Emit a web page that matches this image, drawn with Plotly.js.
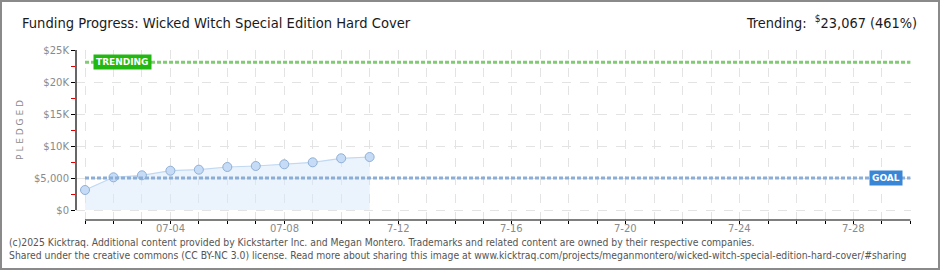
<!DOCTYPE html>
<html>
<head>
<meta charset="utf-8">
<script src="https://cdn.plot.ly/plotly-3.0.1.min.js"></script>
<style>
  html, body { margin: 0; padding: 0; background: #fff; }
  #frame { width: 936px; height: 266px; border: 2px solid #8a8a8a; }
  #chart { width: 936px; height: 266px; }
</style>
</head>
<body>
<div id="frame"><div id="chart"></div></div>
<script>
// ---- data ----
const dates = ['2025-07-01','2025-07-02','2025-07-03','2025-07-04','2025-07-05','2025-07-06',
               '2025-07-07','2025-07-08','2025-07-09','2025-07-10','2025-07-11'];
const pledged = [3125, 5110, 5420, 6140, 6300, 6720, 6875, 7140, 7450, 8080, 8280];
const goal = 5000;
const trending = 23067;
const periodStart = '2025-07-01';
const periodEnd = '2025-07-30';
const tickDays = [];
for (let d = 1; d <= 30; d++) tickDays.push('2025-07-' + String(d).padStart(2, '0'));
const xLabelDates = ['2025-07-04','2025-07-08','2025-07-12','2025-07-16','2025-07-20','2025-07-24','2025-07-28'];
const xLabelText = ['07-04','07-08','7-12','7-16','7-20','7-24','7-28'];
const yTickVals = [0, 5000, 10000, 15000, 20000, 25000];
const yTickText = ['$0', '$5,000', '$10K', '$15K', '$20K', '$25K'];
const yMinorVals = [2500, 7500, 12500, 17500, 22500];
const titleText = 'Funding Progress: Wicked Witch Special Edition Hard Cover';
const trendText = 'Trending:  <sup>$</sup>23,067 (461%)';
const footer1 = '(c)2025 Kicktraq. Additional content provided by Kickstarter Inc. and Megan Montero. Trademarks and related content are owned by their respective companies.';
const footer2 = 'Shared under the creative commons (CC BY-NC 3.0) license. Read more about sharing this image at www.kicktraq.com/projects/meganmontero/wicked-witch-special-edition-hard-cover/#sharing';

const narrow = '"DejaVu Sans Condensed", "DejaVu Sans", sans-serif';
const tickFont = {family: '"DejaVu Sans", sans-serif', size: 10, color: '#8a8a8a'};

const traces = [{
  x: dates, y: pledged, type: 'scatter', mode: 'lines+markers',
  fill: 'tozeroy', fillcolor: 'rgba(215,232,250,0.5)',
  line: {color: '#c0d8f2', width: 1.2},
  marker: {size: 9, color: '#c6dcf6', line: {color: '#90b0d6', width: 1}},
  hoverinfo: 'skip', showlegend: false
}];

const annotations = [
  {xref: 'paper', yref: 'paper', x: 0, y: 1, xshift: -56, yshift: 28, xanchor: 'left', yanchor: 'middle',
   text: titleText, showarrow: false, font: {family: narrow, size: 14.6, color: '#1a1a1a'}},
  {xref: 'paper', yref: 'paper', x: 1, y: 1, xshift: 8, yshift: 28, xanchor: 'right', yanchor: 'middle',
   text: trendText, showarrow: false, font: {family: narrow, size: 14.4, color: '#1a1a1a'}},
  {xref: 'paper', yref: 'paper', x: 0, y: 0.53, xshift: -56, xanchor: 'center', yanchor: 'middle',
   text: 'P L E D G E D', textangle: -90, showarrow: false, font: {family: '"DejaVu Sans", sans-serif', size: 9, color: '#8a8a8a'}},
  {xref: 'x', yref: 'y', x: periodStart, y: trending, xshift: 8, xanchor: 'left', yanchor: 'middle',
   text: '<b>TRENDING</b>', showarrow: false, bgcolor: '#22b812', borderpad: 2,
   font: {family: '"DejaVu Sans", sans-serif', size: 9, color: '#ffffff'}},
  {xref: 'x', yref: 'y', x: periodEnd, y: goal, xshift: -7, xanchor: 'right', yanchor: 'middle',
   text: '<b>GOAL</b>', showarrow: false, bgcolor: '#3a86d6', borderpad: 2,
   font: {family: '"DejaVu Sans", sans-serif', size: 9, color: '#ffffff'}},
  {xref: 'paper', yref: 'paper', x: 0, y: 0, xshift: -69, yshift: -22, xanchor: 'left', yanchor: 'middle',
   text: footer1, showarrow: false, font: {family: narrow, size: 10.3, color: '#555'}},
  {xref: 'paper', yref: 'paper', x: 0, y: 0, xshift: -69, yshift: -35, xanchor: 'left', yanchor: 'middle',
   text: footer2, showarrow: false, font: {family: narrow, size: 10.3, color: '#555'}}
];
xLabelDates.forEach((d, i) => annotations.push({
  xref: 'x', yref: 'paper', x: d, y: 0, yshift: -8, xanchor: 'center', yanchor: 'middle',
  text: xLabelText[i], showarrow: false, font: tickFont
}));

const layout = {
  width: 936, height: 266,
  margin: {l: 74, r: 27, t: 48, b: 48},
  paper_bgcolor: '#fff', plot_bgcolor: '#fff',
  showlegend: false,
  xaxis: {
    type: 'date',
    range: ['2025-06-30 16:24', '2025-07-30 00:30'],
    tickmode: 'array', tickvals: tickDays, showticklabels: false,
    ticks: 'outside', ticklen: 3, tickcolor: '#000', tickwidth: 1,
    showline: false, zeroline: false,
    showgrid: true, gridcolor: '#e3e3e3', griddash: 'dash', gridwidth: 1
  },
  yaxis: {
    range: [-1562.5, 25000],
    tickmode: 'array', tickvals: yTickVals, ticktext: yTickText,
    ticks: 'outside', ticklen: 4, tickcolor: '#000', tickwidth: 1,
    minor: {tickmode: 'array', tickvals: yMinorVals, ticks: 'outside', ticklen: 4, tickcolor: '#e00000', showgrid: false},
    showline: false, zeroline: false,
    showgrid: true, gridcolor: '#e3e3e3', griddash: 'dash', gridwidth: 1,
    tickfont: tickFont
  },
  shapes: [
    {type: 'line', xref: 'paper', yref: 'y', x0: 0, x1: 0, y0: 0, y1: 25000, line: {color: '#000', width: 1.2}},
    {type: 'line', xref: 'x', yref: 'paper', x0: periodStart, x1: periodEnd, y0: 0, y1: 0, line: {color: '#000', width: 1.2}},
    {type: 'line', xref: 'x', yref: 'y', x0: periodStart, x1: periodEnd, y0: trending, y1: trending,
     line: {color: '#7fcc72', width: 3, dash: '4px,2px'}},
    {type: 'line', xref: 'x', yref: 'y', x0: periodStart, x1: periodEnd, y0: goal, y1: goal,
     line: {color: '#8aaed8', width: 3, dash: '4px,2px'}}
  ],
  annotations: annotations
};

Plotly.newPlot('chart', traces, layout, {staticPlot: true, displayModeBar: false});
</script>
</body>
</html>
